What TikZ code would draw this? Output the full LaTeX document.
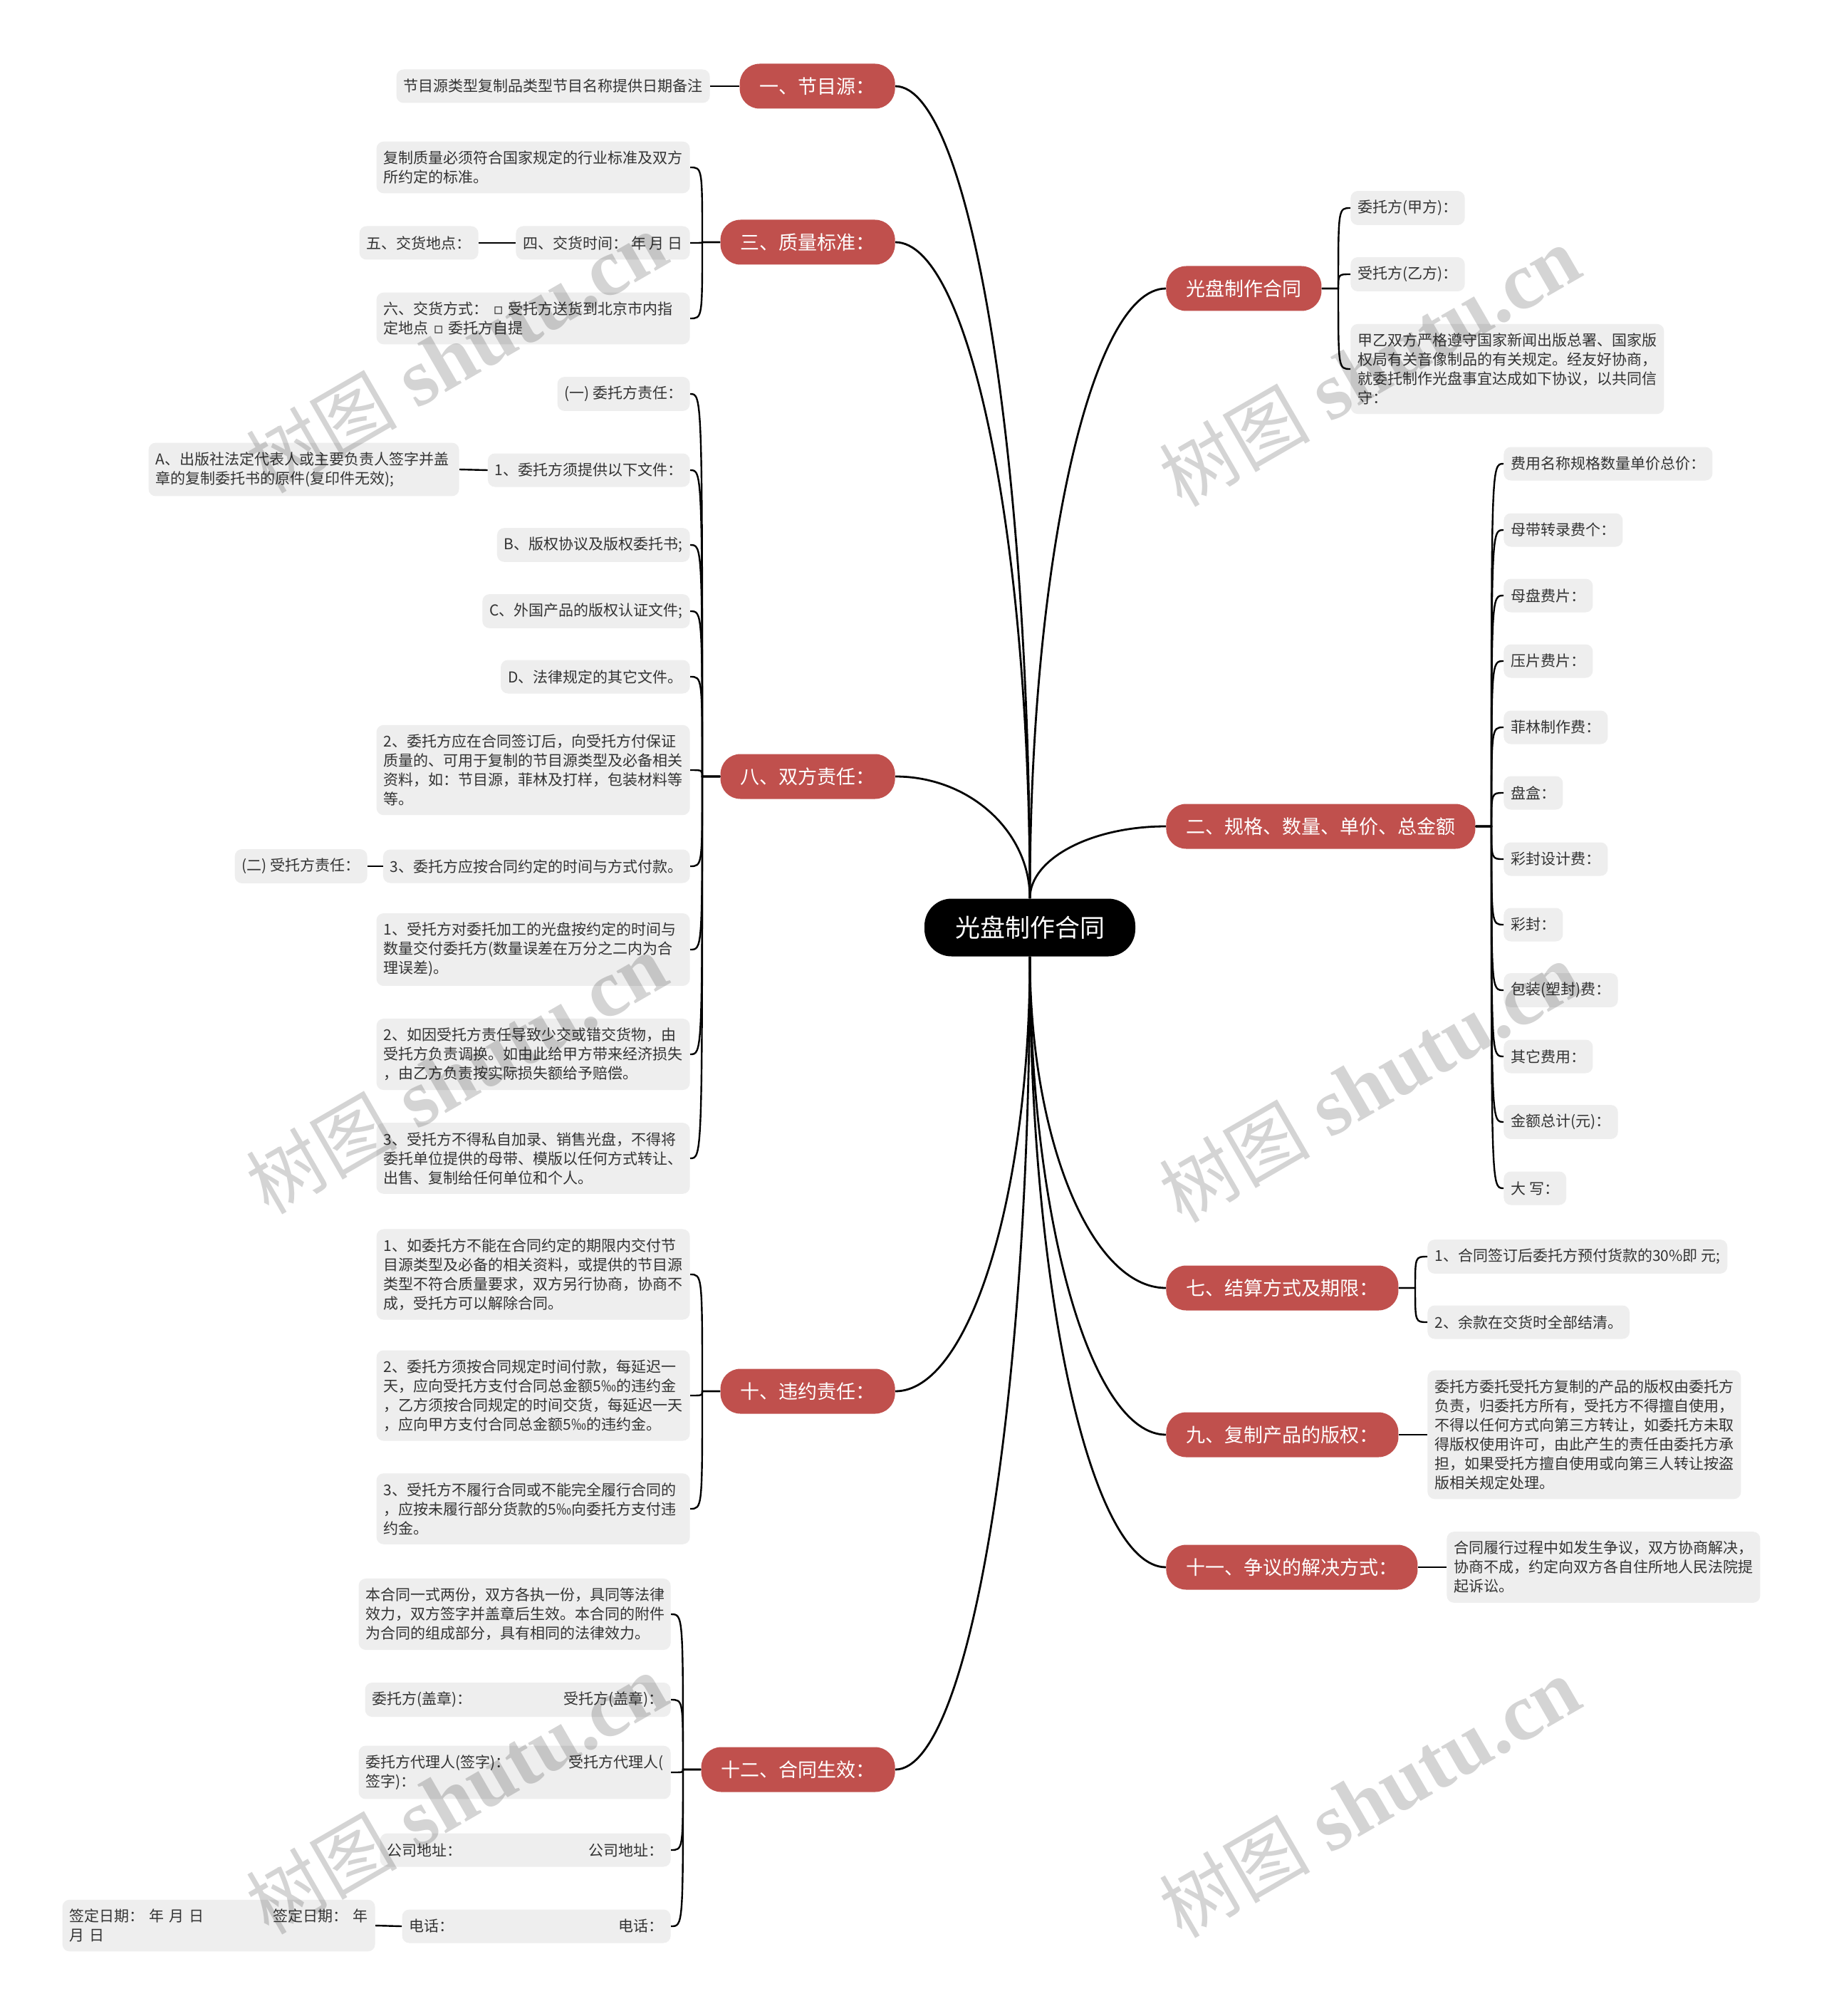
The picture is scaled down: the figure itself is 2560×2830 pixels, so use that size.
\documentclass[tikz,border=0pt]{standalone}
\usepackage{fontspec}
\newfontfamily\cjk{Noto Sans CJK SC}
\newfontfamily\dvs{DejaVu Sans}
\newfontfamily\wmserif{Liberation Serif}
\usetikzlibrary{calc}
\definecolor{redn}{HTML}{C0504D}
\definecolor{leafbg}{HTML}{EEEEEE}
\definecolor{leaftx}{HTML}{333333}
\tikzset{
 rootbox/.style={fill=black, text=white, rounded corners=19pt, inner xsep=21.5pt, inner ysep=0pt, minimum height=40.5pt, font=\cjk\fontsize{17.5}{21}\selectfont},
 topic/.style={fill=redn, text=white, rounded corners=14pt, inner xsep=14pt, inner ysep=0pt, minimum height=31.5pt, font=\cjk\fontsize{13.5}{16}\selectfont},
 leaf/.style={fill=leafbg, text=leaftx, rounded corners=5pt, inner xsep=5pt, inner ysep=6.5pt, minimum height=23.5pt, align=left, font=\cjk\fontsize{10.5}{13.5}\selectfont},
 conn/.style={line width=1.2pt, black},
 mainconn/.style={line width=1.4pt, black},
 wmark/.style={text=black, opacity=0.17, rotate=30, inner sep=0pt}
}
\newcommand\mcurve[2]{\draw[mainconn] (#1) .. controls ($(#1)!0.55!(#1 |- #2)$) and ($(#2)!0.55!(#1 |- #2)$) .. (#2);}
\newcommand\brL[2]{\path ($(#2.east)+(17,0)$) coordinate (jj); \draw[conn] (#1.west) -- (jj |- #1.west) .. controls (jj) and (jj) .. (#2.east);}
\newcommand\brR[2]{\path ($(#2.west)+(-17,0)$) coordinate (jj); \draw[conn] (#1.east) -- (jj |- #1.east) .. controls (jj) and (jj) .. (#2.west);}
\newcommand\sq{{\dvs ▫}}
\newcommand\wmtext{{\cjk\fontsize{53}{57}\selectfont 树图}\hspace{14pt}{\wmserif\bfseries\fontsize{57}{57}\selectfont shutu.cn}}
\begin{document}
\begin{tikzpicture}[x=0.5pt,y=-0.5pt]
\fill[white] (0,0) rectangle (2560,2830);
\useasboundingbox (0,0) rectangle (2560,2830);

% root and main topics
\node[rootbox] (root) at (1446,1302) {光盘制作合同};
\node[topic, anchor=east] (t1) at (1257,121) {一、节目源：};
\node[topic, anchor=east] (t3) at (1257,340) {三、质量标准：};
\node[topic, anchor=east] (t8) at (1257,1090) {八、双方责任：};
\node[topic, anchor=east] (t10) at (1257,1953) {十、违约责任：};
\node[topic, anchor=east] (t12) at (1257,2484) {十二、合同生效：};
\node[topic, anchor=west] (t0) at (1637,405) {光盘制作合同};
\node[topic, anchor=west] (t2) at (1637,1160) {二、规格、数量、单价、总金额};
\node[topic, anchor=west] (t7) at (1637,1808) {七、结算方式及期限：};
\node[topic, anchor=west] (t9) at (1637,2014) {九、复制产品的版权：};
\node[topic, anchor=west] (t11) at (1637,2200) {十一、争议的解决方式：};

% left leaves
\node[leaf, anchor=east] (l1) at (997,121) {节目源类型复制品类型节目名称提供日期备注};
\node[leaf, anchor=east, text width=210pt] (q1) at (969,235) {复制质量必须符合国家规定的行业标准及双方\\所约定的标准。};
\node[leaf, anchor=east] (q2) at (969,341) {四、交货时间： 年 月 日};
\node[leaf, anchor=east] (q2a) at (672,341) {五、交货地点：};
\node[leaf, anchor=east, text width=210pt] (q3) at (969,447) {六、交货方式： \sq\ 受托方送货到北京市内指\\定地点 \sq\ 委托方自提};

\node[leaf, anchor=east] (e1) at (969,553) {(一) 委托方责任：};
\node[leaf, anchor=east] (e2) at (969,660) {1、委托方须提供以下文件：};
\node[leaf, anchor=east, text width=208pt] (e2a) at (645,659) {A、出版社法定代表人或主要负责人签字并盖\\章的复制委托书的原件(复印件无效);};
\node[leaf, anchor=east] (e3) at (969,765) {B、版权协议及版权委托书;};
\node[leaf, anchor=east] (e4) at (969,858) {C、外国产品的版权认证文件;};
\node[leaf, anchor=east] (e5) at (969,950) {D、法律规定的其它文件。};
\node[leaf, anchor=east, text width=210pt] (e6) at (969,1081) {2、委托方应在合同签订后，向受托方付保证\\质量的、可用于复制的节目源类型及必备相关\\资料，如：节目源，菲林及打样，包装材料等\\等。};
\node[leaf, anchor=east] (e7) at (969,1216) {3、委托方应按合同约定的时间与方式付款。};
\node[leaf, anchor=east] (e7a) at (516,1216) {(二) 受托方责任：};
\node[leaf, anchor=east, text width=210pt] (e8) at (969,1333) {1、受托方对委托加工的光盘按约定的时间与\\数量交付委托方(数量误差在万分之二内为合\\理误差)。};
\node[leaf, anchor=east, text width=210pt] (e9) at (969,1480) {2、如因受托方责任导致少交或错交货物，由\\受托方负责调换。如由此给甲方带来经济损失\\，由乙方负责按实际损失额给予赔偿。};
\node[leaf, anchor=east, text width=210pt] (e10) at (969,1626) {3、受托方不得私自加录、销售光盘，不得将\\委托单位提供的母带、模版以任何方式转让、\\出售、复制给任何单位和个人。};

\node[leaf, anchor=east, text width=210pt] (v1) at (969,1789) {1、如委托方不能在合同约定的期限内交付节\\目源类型及必备的相关资料，或提供的节目源\\类型不符合质量要求，双方另行协商，协商不\\成，受托方可以解除合同。};
\node[leaf, anchor=east, text width=210pt] (v2) at (969,1959) {2、委托方须按合同规定时间付款，每延迟一\\天，应向受托方支付合同总金额5‰的违约金\\，乙方须按合同规定的时间交货，每延迟一天\\，应向甲方支付合同总金额5‰的违约金。};
\node[leaf, anchor=east, text width=210pt] (v3) at (969,2118) {3、受托方不履行合同或不能完全履行合同的\\，应按未履行部分货款的5‰向委托方支付违\\约金。};

\node[leaf, anchor=east, text width=209pt] (s1) at (942,2266) {本合同一式两份，双方各执一份，具同等法律\\效力，双方签字并盖章后生效。本合同的附件\\为合同的组成部分，具有相同的法律效力。};
\node[leaf, anchor=east, text width=204.5pt] (s2) at (942,2386) {委托方(盖章)：\hfill 受托方(盖章)：};
\node[leaf, anchor=east, text width=209pt] (s3) at (942,2488) {委托方代理人(签字)：\hfill 受托方代理人(\\签字)：};
\node[leaf, anchor=east, text width=194pt] (s4) at (942,2597) {公司地址：\hfill 公司地址：};
\node[leaf, anchor=east, text width=178.5pt] (s5) at (942,2704) {电话：\hfill 电话：};
\node[leaf, anchor=east, text width=209.5pt] (s5a) at (527,2703) {签定日期： 年 月 日\hfill 签定日期： 年\\月 日};

% right leaves
\node[leaf, anchor=west] (r1) at (1896,292) {委托方(甲方)：};
\node[leaf, anchor=west] (r2) at (1896,385) {受托方(乙方)：};
\node[leaf, anchor=west, text width=210pt] (r3) at (1896,518) {甲乙双方严格遵守国家新闻出版总署、国家版\\权局有关音像制品的有关规定。经友好协商，\\就委托制作光盘事宜达成如下协议，以共同信\\守：};

\node[leaf, anchor=west] (p1) at (2111,651) {费用名称规格数量单价总价：};
\node[leaf, anchor=west] (p2) at (2111,744) {母带转录费个：};
\node[leaf, anchor=west] (p3) at (2111,836) {母盘费片：};
\node[leaf, anchor=west] (p4) at (2111,928) {压片费片：};
\node[leaf, anchor=west] (p5) at (2111,1021) {菲林制作费：};
\node[leaf, anchor=west] (p6) at (2111,1113) {盘盒：};
\node[leaf, anchor=west] (p7) at (2111,1206) {彩封设计费：};
\node[leaf, anchor=west] (p8) at (2111,1298) {彩封：};
\node[leaf, anchor=west] (p9) at (2111,1390) {包装(塑封)费：};
\node[leaf, anchor=west] (p10) at (2111,1483) {其它费用：};
\node[leaf, anchor=west] (p11) at (2111,1575) {金额总计(元)：};
\node[leaf, anchor=west] (p12) at (2111,1668) {大 写：};

\node[leaf, anchor=west] (k1) at (2004,1764) {1、合同签订后委托方预付货款的30\%即 元;};
\node[leaf, anchor=west] (k2) at (2004,1856) {2、余款在交货时全部结清。};
\node[leaf, anchor=west, text width=210pt] (c1) at (2004,2014) {委托方委托受托方复制的产品的版权由委托方\\负责，归委托方所有，受托方不得擅自使用，\\不得以任何方式向第三方转让，如委托方未取\\得版权使用许可，由此产生的责任由委托方承\\担，如果受托方擅自使用或向第三人转让按盗\\版相关规定处理。};
\node[leaf, anchor=west, text width=210pt] (d1) at (2031,2200) {合同履行过程中如发生争议，双方协商解决，\\协商不成，约定向双方各自住所地人民法院提\\起诉讼。};

% main connectors
\mcurve{root.north}{t1.east}
\mcurve{root.north}{t3.east}
\mcurve{root.north}{t8.east}
\mcurve{root.north}{t0.west}
\mcurve{root.north}{t2.west}
\mcurve{root.south}{t10.east}
\mcurve{root.south}{t12.east}
\mcurve{root.south}{t7.west}
\mcurve{root.south}{t9.west}
\mcurve{root.south}{t11.west}

% branch connectors left
\draw[conn] (t1.west) -- (l1.east);
\brL{t3}{q1}\brL{t3}{q2}\brL{t3}{q3}
\draw[conn] (q2.west) -- (q2a.east);
\brL{t8}{e1}\brL{t8}{e2}\brL{t8}{e3}\brL{t8}{e4}\brL{t8}{e5}
\brL{t8}{e6}\brL{t8}{e7}\brL{t8}{e8}\brL{t8}{e9}\brL{t8}{e10}
\draw[conn] (e2.west) -- (e2a.east);
\draw[conn] (e7.west) -- (e7a.east);
\brL{t10}{v1}\brL{t10}{v2}\brL{t10}{v3}
\brL{t12}{s1}\brL{t12}{s2}\brL{t12}{s3}\brL{t12}{s4}\brL{t12}{s5}
\draw[conn] (s5.west) -- (s5a.east);

% branch connectors right
\brR{t0}{r1}\brR{t0}{r2}\brR{t0}{r3}
\brR{t2}{p1}\brR{t2}{p2}\brR{t2}{p3}\brR{t2}{p4}\brR{t2}{p5}\brR{t2}{p6}
\brR{t2}{p7}\brR{t2}{p8}\brR{t2}{p9}\brR{t2}{p10}\brR{t2}{p11}\brR{t2}{p12}
\brR{t7}{k1}\brR{t7}{k2}
\draw[conn] (t9.east) -- (c1.west);
\draw[conn] (t11.east) -- (d1.west);

% watermarks
\node[wmark] (w1) at (641,496) {\wmtext};
\node[wmark] (w2) at (1923,515) {\wmtext};
\node[wmark] (w3) at (641,1508) {\wmtext};
\node[wmark] (w4) at (1923,1520) {\wmtext};
\node[wmark] (w5) at (641,2519) {\wmtext};
\node[wmark] (w6) at (1923,2524) {\wmtext};
\end{tikzpicture}
\end{document}
